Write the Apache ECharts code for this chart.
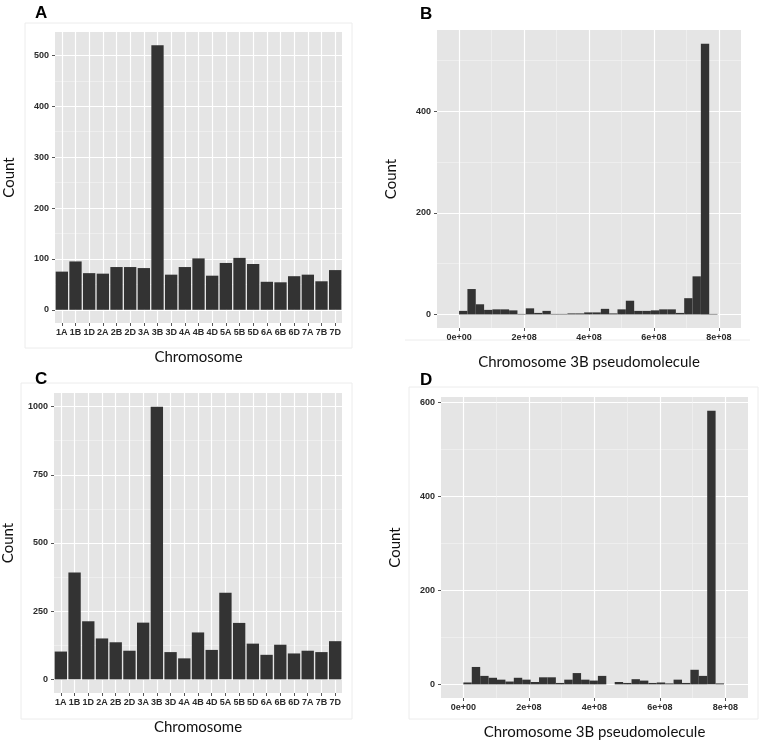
<!DOCTYPE html>
<html>
<head>
<meta charset="utf-8">
<script src="https://cdn.jsdelivr.net/npm/echarts@6/dist/echarts.min.js"></script>
<style>
  html, body { margin: 0; padding: 0; background: #fff; }
  #main { width: 759px; height: 741px; }
</style>
</head>
<body>
<div id="main"></div>
<script>
// chromosome counts (panels A and C)
const chromosomes = ["1A", "1B", "1D", "2A", "2B", "2D", "3A", "3B", "3D", "4A", "4B", "4D",
  "5A", "5B", "5D", "6A", "6B", "6D", "7A", "7B", "7D"];
const countsA = [75, 95, 72, 71, 84, 84, 82, 520, 69, 84, 101, 67, 92, 102, 90, 55, 54, 66, 69, 56, 78];
const countsC = [102, 392, 213, 150, 136, 105, 208, 1000, 100, 77, 172, 108, 318, 207, 131, 90, 127, 95, 105, 100, 140];

// 3B pseudomolecule histograms (panels B and D), 31 bins from 0
const binWidth = 2.567e7;
const countsB = [7, 50, 20, 9, 10, 10, 8, 1, 12, 3, 7, 1, 1, 2, 2, 4, 4, 11, 2, 10, 27, 7, 7, 8, 10, 10, 3, 32, 75, 533, 1];
const countsD = [4, 37, 18, 14, 10, 6, 14, 10, 5, 15, 15, 3, 10, 24, 10, 8, 18, 0, 5, 3, 11, 8, 3, 4, 2, 10, 3, 31, 18, 582, 2];

// tick labels
const posTicks = [0, 2e8, 4e8, 6e8, 8e8];
const posMinor = [1e8, 3e8, 5e8, 7e8];
const ticksA = [0, 100, 200, 300, 400, 500];
const minorA = [50, 150, 250, 350, 450];
const ticksB = [0, 200, 400];
const minorB = [100, 300, 500];
const ticksC = [0, 250, 500, 750, 1000];
const minorC = [125, 375, 625, 875];
const ticksD = [0, 200, 400, 600];
const minorD = [100, 300, 500];

const chart = echarts.init(document.getElementById("main"));

const labelFont = { fontFamily: "Liberation Sans", fontWeight: "bold", fontSize: 9, color: "#2b2b2b" };
const nameFont = { fontFamily: "Lato", fontSize: 15, color: "#111" };
const gridLine = { color: "#ffffff", width: 1.2 };
const minorLine = { color: "#f4f4f4", width: 0.6 };

function histData(counts) {
  return counts.map((c, i) => [i * binWidth, (i + 1) * binWidth, c]);
}

function histItem(params, api) {
  const p0 = api.coord([api.value(0), api.value(2)]);
  const p1 = api.coord([api.value(1), 0]);
  return {
    type: "rect",
    shape: { x: p0[0], y: p0[1], width: p1[0] - p0[0], height: p1[1] - p0[1] },
    style: { fill: "#333333" },
  };
}

function yMajor(grid, min, max, ticks) {
  return {
    type: "value", gridIndex: grid, min: min, max: max, position: "left",
    name: "Count", nameLocation: "middle", nameGap: 38, nameTextStyle: nameFont,
    axisLine: { show: false, onZero: false },
    axisTick: { show: true, length: 3, lineStyle: { color: "#555" }, customValues: ticks },
    axisLabel: Object.assign({ margin: 6, customValues: ticks, formatter: (v) => String(v) }, labelFont),
    splitLine: { show: true, lineStyle: gridLine, customValues: ticks },
  };
}
function yMinor(grid, min, max, ticks) {
  return {
    type: "value", gridIndex: grid, min: min, max: max, position: "left",
    axisLine: { show: false, onZero: false }, axisLabel: { show: false },
    axisTick: { show: false, customValues: ticks },
    splitLine: { show: true, lineStyle: minorLine, customValues: ticks },
  };
}
function xCat(grid) {
  return {
    type: "category", gridIndex: grid, data: chromosomes,
    name: "Chromosome", nameLocation: "middle", nameGap: 27, nameTextStyle: nameFont,
    axisLine: { show: false, onZero: false },
    axisTick: { show: true, length: 3, alignWithLabel: true, interval: 0, lineStyle: { color: "#555" } },
    axisLabel: Object.assign({ margin: 5, interval: 0 }, labelFont),
    splitLine: { show: true, alignWithLabel: true, interval: 0, lineStyle: gridLine },
  };
}
function xPos(grid, min, max) {
  return {
    type: "value", gridIndex: grid, min: min, max: max,
    name: "Chromosome 3B pseudomolecule", nameLocation: "middle", nameGap: 27, nameTextStyle: nameFont,
    axisLine: { show: false, onZero: false },
    axisTick: { show: true, length: 3, lineStyle: { color: "#555" }, customValues: posTicks },
    axisLabel: Object.assign({
      margin: 5, customValues: posTicks,
      formatter: (v) => (v === 0 ? "0e+00" : Math.round(v / 1e8) + "e+08"),
    }, labelFont),
    splitLine: { show: true, lineStyle: gridLine, customValues: posTicks },
  };
}
function xPosMinor(grid, min, max) {
  return {
    type: "value", gridIndex: grid, min: min, max: max,
    axisLine: { show: false, onZero: false }, axisLabel: { show: false },
    axisTick: { show: false, customValues: posMinor },
    splitLine: { show: true, lineStyle: minorLine, customValues: posMinor },
  };
}

const panelGrid = { show: true, backgroundColor: "#e5e5e5", borderWidth: 0 };
const letter = { fontFamily: "Liberation Sans", fontWeight: "bold", fontSize: 17, color: "#000" };

chart.setOption({
  animation: false,
  backgroundColor: "#fff",
  title: [
    { text: "A", left: 30, top: 0, textStyle: letter },
    { text: "B", left: 415, top: 1, textStyle: letter },
    { text: "C", left: 30, top: 366, textStyle: letter },
    { text: "D", left: 415, top: 367, textStyle: letter },
  ],
  graphic: [
    { type: "rect", shape: { x: 25, y: 23, width: 327, height: 325 }, style: { fill: null, stroke: "#ececec", lineWidth: 1 }, silent: true },
    { type: "line", shape: { x1: 405, y1: 340, x2: 750, y2: 340 }, style: { stroke: "#ececec", lineWidth: 1 }, silent: true },
    { type: "rect", shape: { x: 21, y: 383, width: 331, height: 336 }, style: { fill: null, stroke: "#ececec", lineWidth: 1 }, silent: true },
    { type: "rect", shape: { x: 409, y: 387, width: 349, height: 332 }, style: { fill: null, stroke: "#ececec", lineWidth: 1 }, silent: true },
  ],
  grid: [
    Object.assign({ left: 55, top: 32, width: 287, height: 291 }, panelGrid),
    Object.assign({ left: 437, top: 30, width: 304, height: 298 }, panelGrid),
    Object.assign({ left: 54, top: 393, width: 288, height: 300 }, panelGrid),
    Object.assign({ left: 441, top: 397, width: 307, height: 311 }, panelGrid),
  ],
  xAxis: [
    xCat(0),
    xPos(1, -6.8e7, 8.68e8),
    xPosMinor(1, -6.8e7, 8.68e8),
    xCat(2),
    xPos(3, -6.83e7, 8.69e8),
    xPosMinor(3, -6.83e7, 8.69e8),
  ],
  yAxis: [
    yMajor(0, -26, 546, ticksA),
    yMinor(0, -26, 546, minorA),
    yMajor(1, -26.7, 560, ticksB),
    yMinor(1, -26.7, 560, minorB),
    yMajor(2, -50, 1050, ticksC),
    yMinor(2, -50, 1050, minorC),
    yMajor(3, -29, 611, ticksD),
    yMinor(3, -29, 611, minorD),
  ],
  series: [
    { type: "bar", xAxisIndex: 0, yAxisIndex: 0, data: countsA, barCategoryGap: "10%", itemStyle: { color: "#333333" } },
    { type: "custom", xAxisIndex: 1, yAxisIndex: 2, data: histData(countsB), renderItem: histItem, encode: { x: [0, 1], y: 2 } },
    { type: "bar", xAxisIndex: 3, yAxisIndex: 4, data: countsC, barCategoryGap: "10%", itemStyle: { color: "#333333" } },
    { type: "custom", xAxisIndex: 4, yAxisIndex: 6, data: histData(countsD), renderItem: histItem, encode: { x: [0, 1], y: 2 } },
  ],
});
</script>
</body>
</html>
